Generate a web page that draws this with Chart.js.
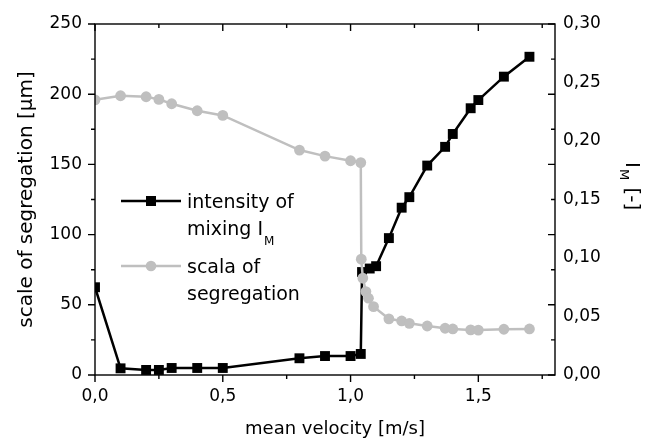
<!DOCTYPE html>
<html><head><meta charset="utf-8">
<script src="https://cdn.jsdelivr.net/npm/chart.js@4.4.0/dist/chart.umd.min.js"></script>
<style>html,body{margin:0;padding:0;background:#fff}#wrap{width:646px;height:441px}</style>
</head><body><div id="wrap"><canvas id="c" width="646" height="441"></canvas></div>
<script>
// ---- data ----
const velocityIM = [0, 0.1, 0.2, 0.25, 0.3, 0.4, 0.5, 0.8, 0.9, 1.0, 1.04, 1.045, 1.075, 1.10, 1.15, 1.2, 1.23, 1.3, 1.37, 1.4, 1.47, 1.5, 1.6, 1.7];
const intensityIM = [0.075, 0.0057, 0.0043, 0.0043, 0.006, 0.006, 0.006, 0.0143, 0.0162, 0.0162, 0.018, 0.088, 0.091, 0.093, 0.117, 0.143, 0.152, 0.179, 0.195, 0.206, 0.228, 0.235, 0.255, 0.272];
const velocitySeg = [0, 0.1, 0.2, 0.25, 0.3, 0.4, 0.5, 0.8, 0.9, 1.0, 1.04, 1.042, 1.048, 1.06, 1.07, 1.09, 1.15, 1.2, 1.23, 1.3, 1.37, 1.4, 1.47, 1.5, 1.6, 1.7];
const scaleSeg = [196, 198.9, 198.2, 196.3, 193.2, 188.2, 184.9, 160.2, 155.9, 152.6, 151.3, 82.5, 69, 59.4, 54.7, 48.7, 40, 38.5, 36.8, 34.9, 33.3, 32.8, 32.1, 32, 32.6, 32.8];
const xTicks = [0, 0.5, 1.0, 1.5];
const yTicks = [0, 50, 100, 150, 200, 250];
const y1Ticks = [0, 0.05, 0.10, 0.15, 0.20, 0.25, 0.30];
const xTitle = 'mean velocity [m/s]';
const yTitle = 'scale of segregation [µm]';
const legendIM = ['intensity of', 'mixing I', 'M'];
const legendSeg = ['scala of', 'segregation'];

const FONT = "'DejaVu Sans', sans-serif";
const GRAY = '#bfbfbf';
Chart.defaults.font.family = FONT;
Chart.defaults.color = '#000';

const comma = d => v => Number(v).toFixed(d).replace('.', ',');
const mids = arr => arr.slice(0, -1).map((v, i) => (v + arr[i + 1]) / 2);
const noGrid = { display: false, drawTicks: false, tickLength: 0 };

const framePlugin = {
  id: 'frame',
  afterDatasetsDraw(chart) {
    const { ctx, chartArea: a, scales: { x, y } } = chart;
    ctx.save();
    ctx.strokeStyle = '#000';
    ctx.lineWidth = 1.4;
    ctx.strokeRect(a.left, a.top, a.right - a.left, a.bottom - a.top);
    ctx.beginPath();
    const xMin = mids(xTicks.concat([2.0]));
    xTicks.forEach(v => { const p = x.getPixelForValue(v);
      ctx.moveTo(p, a.bottom); ctx.lineTo(p, a.bottom + 7);
      ctx.moveTo(p, a.top); ctx.lineTo(p, a.top + 7); });
    xMin.forEach(v => { if (v > x.max) return; const p = x.getPixelForValue(v);
      ctx.moveTo(p, a.bottom); ctx.lineTo(p, a.bottom + 4);
      ctx.moveTo(p, a.top); ctx.lineTo(p, a.top + 4); });
    yTicks.forEach(v => { const p = y.getPixelForValue(v);
      ctx.moveTo(a.left - 7, p); ctx.lineTo(a.left, p);
      ctx.moveTo(a.right - 7, p); ctx.lineTo(a.right, p); });
    mids(yTicks).forEach(v => { const p = y.getPixelForValue(v);
      ctx.moveTo(a.left - 4, p); ctx.lineTo(a.left, p);
      ctx.moveTo(a.right - 4, p); ctx.lineTo(a.right, p); });
    ctx.stroke();
    ctx.restore();
  },
  afterDraw(chart) {
    const { ctx, chartArea: a } = chart;
    ctx.save();
    ctx.fillStyle = '#000';
    // x title
    ctx.font = '18px ' + FONT;
    ctx.textAlign = 'center';
    ctx.textBaseline = 'alphabetic';
    ctx.fillText(xTitle, (a.left + a.right) / 2 + 10, a.bottom + 59);
    // left title
    ctx.save();
    ctx.translate(a.left - 63, (a.top + a.bottom) / 2);
    ctx.rotate(-Math.PI / 2);
    ctx.font = '20px ' + FONT;
    ctx.fillText(yTitle, 0, 0);
    ctx.restore();
    // right title: I_M [-]
    ctx.save();
    ctx.translate(a.right + 71, a.top + 138);
    ctx.rotate(Math.PI / 2);
    ctx.textAlign = 'left';
    ctx.font = '20px ' + FONT;
    ctx.fillText('I', 0, 0);
    let w = ctx.measureText('I').width;
    ctx.font = '13px ' + FONT;
    ctx.fillText('M', w + 1, 6);
    w += ctx.measureText('M').width + 2;
    ctx.font = '20px ' + FONT;
    ctx.fillText(' [-]', w, 0);
    ctx.restore();

    // legend
    const lx1 = a.left + 26, lx2 = a.left + 86, lxc = (lx1 + lx2) / 2, tx = a.left + 92;
    ctx.lineWidth = 2.5;
    ctx.strokeStyle = '#000';
    ctx.beginPath(); ctx.moveTo(lx1, a.top + 177); ctx.lineTo(lx2, a.top + 177); ctx.stroke();
    ctx.fillRect(lxc - 5, a.top + 177 - 5, 10, 10);
    ctx.strokeStyle = GRAY; ctx.fillStyle = GRAY;
    ctx.beginPath(); ctx.moveTo(lx1, a.top + 242); ctx.lineTo(lx2, a.top + 242); ctx.stroke();
    ctx.beginPath(); ctx.arc(lxc, a.top + 242, 5.3, 0, Math.PI * 2); ctx.fill();
    ctx.fillStyle = '#000';
    ctx.textAlign = 'left';
    ctx.font = '19px ' + FONT;
    ctx.fillText(legendIM[0], tx, a.top + 184);
    ctx.fillText(legendIM[1], tx, a.top + 211);
    const mw = ctx.measureText(legendIM[1]).width;
    ctx.font = '12px ' + FONT;
    ctx.fillText(legendIM[2], tx + mw + 1, a.top + 221);
    ctx.font = '19px ' + FONT;
    ctx.fillText(legendSeg[0], tx, a.top + 249);
    ctx.fillText(legendSeg[1], tx, a.top + 276);
    ctx.restore();
  }
};

new Chart(document.getElementById('c'), {
  type: 'line',
  data: {
    datasets: [
      {
        label: 'intensity of mixing IM',
        data: velocityIM.map((v, i) => ({ x: v, y: intensityIM[i] })),
        yAxisID: 'y1',
        borderColor: '#000', backgroundColor: '#000',
        borderWidth: 2.5, pointStyle: 'rect', pointRadius: 7,
        pointBorderWidth: 0, order: 1, tension: 0
      },
      {
        label: 'scala of segregation',
        data: velocitySeg.map((v, i) => ({ x: v, y: scaleSeg[i] })),
        yAxisID: 'y',
        borderColor: GRAY, backgroundColor: GRAY,
        borderWidth: 2.5, pointStyle: 'circle', pointRadius: 5.4,
        pointBorderWidth: 0, order: 0, tension: 0
      }
    ]
  },
  options: {
    responsive: false, animation: false, devicePixelRatio: 1,
    layout: { padding: { top: 24, left: 0, right: 0, bottom: 0 } },
    plugins: { legend: { display: false }, tooltip: { enabled: false } },
    scales: {
      x: {
        type: 'linear', min: 0, max: 1.8,
        grid: noGrid, border: { display: false },
        afterBuildTicks: s => { s.ticks = xTicks.map(v => ({ value: v })); },
        afterFit: s => { s.height = 66; },
        ticks: { font: { size: 17 }, padding: 11, callback: comma(1), maxRotation: 0 }
      },
      y: {
        position: 'left', min: 0, max: 250,
        grid: noGrid, border: { display: false },
        afterBuildTicks: s => { s.ticks = yTicks.map(v => ({ value: v })); },
        afterFit: s => { s.width = 95; },
        ticks: { font: { size: 17 }, padding: 13, callback: v => String(v) }
      },
      y1: {
        position: 'right', min: 0, max: 0.3,
        grid: noGrid, border: { display: false },
        afterBuildTicks: s => { s.ticks = y1Ticks.map(v => ({ value: v })); },
        afterFit: s => { s.width = 91; },
        ticks: { font: { size: 17 }, padding: 8, callback: comma(2) }
      }
    }
  },
  plugins: [framePlugin]
});
</script>
</body></html>
